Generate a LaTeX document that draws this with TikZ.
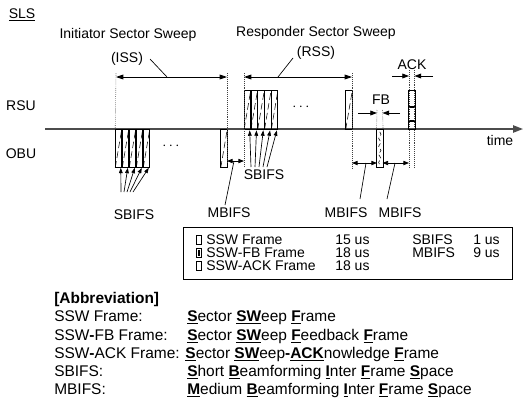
\documentclass[tikz,border=0pt]{standalone}
\usepackage{fontspec}
\setmainfont{Liberation Sans}
\usepackage{tikz}
\usetikzlibrary{positioning, arrows.meta, decorations.pathmorphing}

\newcommand{\abk}[1]{\underline{\textbf{#1}}}

\begin{document}
\begin{tikzpicture}[
  x=0.75pt, y=-0.75pt,
  font=\fontsize{10.5}{12}\selectfont,
  sswframe/.style={draw, line width=0.6pt, inner sep=0pt, outer sep=0pt,
                   minimum width=4.9pt, minimum height=29pt},
  icon/.style={draw, line width=0.6pt, inner sep=0pt, outer sep=0pt,
               minimum width=3.3pt, minimum height=7pt},
  hatch/.style={line width=0.4pt, dash pattern=on 5pt off 2.5pt},
  guide/.style={densely dotted, line width=0.45pt, black!75},
  dim/.style={{Triangle[length=5.5pt,width=3.6pt]}-{Triangle[length=5.5pt,width=3.6pt]}, line width=0.6pt},
  shortdim/.style={{Triangle[length=4.2pt,width=3.2pt]}-{Triangle[length=4.2pt,width=3.2pt]}, line width=0.6pt},
  pointer/.style={-{Triangle[length=5pt,width=3.6pt]}, line width=0.6pt},
  fan/.style={-{Triangle[length=4pt,width=2.8pt]}, line width=0.5pt},
  leader/.style={line width=0.5pt},
  axis/.style={-{Triangle[length=7.5pt,width=5.5pt]}, line width=1.1pt, black!70},
  lbl/.style={inner sep=0pt},
  abbr/.style={anchor=base west, inner sep=0pt, font=\fontsize{11.6}{14}\selectfont}
]
\useasboundingbox (0,0) rectangle (523,397);

\node[lbl] (sls) at (22,15) {\underline{SLS}};
\node[lbl] (rsu) at (21,106) {RSU};
\node[lbl] (obu) at (21,154) {OBU};

\coordinate (t0) at (45,129);
\coordinate (t1) at (523,129);
\draw[axis] (t0) -- (t1);
\node[lbl] (time) at (500,140) {time};

% initiator sweep (OBU side)
\foreach \i in {0,...,4} {
  \node[sswframe] (iss\i) at (118.5+7*\i,148.5) {};
  \draw[hatch] (iss\i.south west) -- (iss\i.north east);
  \coordinate (issfoot\i) at (121+3*\i,192);
  \draw[fan] (issfoot\i) -- ([xshift=-0.75pt]iss\i.south east);
}
\node[lbl] (issdots) at (171,146) {$\cdots$};
\node[sswframe] (isslast) at (224,148.5) {};
\draw[hatch] (isslast.south west) -- (isslast.north east);
\node[lbl] (sbifsiss) at (134,215) {SBIFS};

% responder sweep (RSU side)
\foreach \i in {0,...,4} {
  \node[sswframe] (rss\i) at (247.4+6.8*\i,110) {};
  \draw[hatch] (rss\i.south west) -- (rss\i.north east);
  \coordinate (rssfoot\i) at (251+4*\i,167);
  \draw[fan] (rssfoot\i) -- ([xshift=-0.75pt,yshift=-0.8pt]rss\i.south east);
}
\node[lbl] (rssdots) at (301,107) {$\cdots$};
\node[sswframe] (rsslast) at (349,110) {};
\draw[hatch] (rsslast.south west) -- (rsslast.north east);
\node[lbl] (sbifsrss) at (264,175) {SBIFS};

% feedback and ack
\node[sswframe] (fb) at (379.8,148.5) {};
\draw[decorate, decoration={snake, amplitude=0.9pt, segment length=6pt},
      line width=0.4pt, dash pattern=on 3pt off 2pt]
  ([yshift=-2pt]fb.north) -- ([yshift=2pt]fb.south);
\node[sswframe] (ack) at (411.8,110) {};
\draw[line width=1.3pt] ([yshift=-12pt]ack.north west) -- ([yshift=-12pt]ack.north east);
\draw[line width=1.3pt] ([yshift=-22.5pt]ack.north west) -- ([yshift=-22.5pt]ack.north east);

% guides
\coordinate (issA) at (116,73);
\coordinate (issB) at (227,73);
\coordinate (issB2) at (227,163);
\coordinate (rssA) at (244,73);
\coordinate (rssA2) at (244,166);
\coordinate (rssB) at (352,73);
\coordinate (rssB2) at (352,169);
\coordinate (ackA) at (409,70);
\coordinate (ackA2) at (409,168);
\coordinate (ackB) at (414.5,70);
\coordinate (ackB2) at (414.5,168);
\coordinate (fbA) at (377,110);
\coordinate (fbB) at (382.5,110);
\draw[guide] (issA) -- (iss0.north west);
\draw[guide] (issB) -- (issB2);
\draw[guide] (rssA) -- (rssA2);
\draw[guide] (rssB) -- (rssB2);
\draw[guide] (ackA) -- (ackA2);
\draw[guide] (ackB) -- (ackB2);
\draw[guide] (fbA) -- (fb.north west);
\draw[guide] (fbB) -- (fb.north east);

% spans
\draw[dim] ([yshift=-3pt]issA) -- ([yshift=-3pt]issB);
\draw[dim] ([yshift=-3pt]rssA) -- ([yshift=-3pt]rssB);
\node[lbl] (issname) at (128,35) {Initiator Sector Sweep};
\node[lbl] (isslbl) at (127,59) {(ISS)};
\node[lbl] (rssname) at (316,33) {Responder Sector Sweep};
\node[lbl] (rsslbl) at (316,53) {(RSS)};
\coordinate (isslead) at (150,59);
\coordinate (isstick) at (167,77);
\coordinate (rsslead) at (293,58);
\coordinate (rsstick) at (278,77);
\draw[leader] (isslead) -- (isstick);
\draw[leader] (rsslead) -- (rsstick);

\node[lbl] (acklbl) at (412,65) {ACK};
\coordinate (ackin1) at (392,76);
\coordinate (ackin2) at (433,76);
\draw[pointer] (ackin1) -- (ackA |- ackin1);
\draw[pointer] (ackin2) -- (ackB |- ackin2);

\node[lbl] (fblbl) at (381,100) {FB};
\coordinate (fbin1) at (358,113);
\coordinate (fbin2) at (400,113);
\draw[pointer] (fbin1) -- (fbA |- fbin1);
\draw[pointer] (fbin2) -- (fbB |- fbin2);

% mbifs gaps
\coordinate (gap1a) at (227,161);
\coordinate (gap1b) at (244,161);
\coordinate (gap2a) at (352,163);
\coordinate (gap2b) at (377,163);
\coordinate (gap3a) at (382.5,163);
\coordinate (gap3b) at (409,163);
\draw[shortdim] (gap1a) -- (gap1b);
\draw[shortdim] (gap2a) -- (gap2b);
\draw[shortdim] (gap3a) -- (gap3b);
\node[lbl] (mbifs1) at (229,213) {MBIFS};
\node[lbl] (mbifs2) at (346,213) {MBIFS};
\node[lbl] (mbifs3) at (400,213) {MBIFS};
\coordinate (lead1) at (225,205);
\coordinate (tick1) at (234,161);
\coordinate (lead2) at (360,199);
\coordinate (tick2) at (366,163);
\coordinate (lead3) at (387,199);
\coordinate (tick3) at (395,163);
\draw[leader] (lead1) -- (tick1);
\draw[leader] (lead2) -- (tick2);
\draw[leader] (lead3) -- (tick3);

% legend
\node[draw, line width=0.6pt, inner sep=0pt, minimum width=246.75pt,
      minimum height=39pt] (legend) at (347.5,253) {};
\node[icon] (icon1) at (199,240) {};
\node[icon] (icon2) at (199,253) {};
\draw[line width=1pt] ([yshift=-1.5pt]icon2.north) -- ([yshift=1.5pt]icon2.south);
\node[icon] (icon3) at (199,266) {};
\node[lbl, anchor=west] (lg1) at (206,240) {SSW Frame};
\node[lbl, anchor=west] (lg2) at (206,253) {SSW-FB Frame};
\node[lbl, anchor=west] (lg3) at (206,266) {SSW-ACK Frame};
\node[lbl, anchor=west] (lg1t) at (335,240) {15 us};
\node[lbl, anchor=west] (lg2t) at (335,253) {18 us};
\node[lbl, anchor=west] (lg3t) at (335,266) {18 us};
\node[lbl, anchor=west] (lgsb) at (412,240) {SBIFS};
\node[lbl, anchor=west] (lgmb) at (412,253) {MBIFS};
\node[lbl, anchor=west] (lgsbt) at (473,240) {1 us};
\node[lbl, anchor=west] (lgmbt) at (473,253) {9 us};

% abbreviations
\node[abbr, font=\fontsize{11.6}{14}\selectfont\bfseries] (abbrtitle) at (54,303) {[Abbreviation]};
\node[abbr] (ab1) at (54,321.5) {SSW Frame:};
\node[abbr] (ab1d) at (187,321.5) {\abk{S}ector \abk{SW}eep \abk{F}rame};
\node[abbr] (ab2) at (54,340) {SSW{\bfseries -}FB Frame:};
\node[abbr] (ab2d) at (187,340) {\abk{S}ector \abk{SW}eep \abk{F}eedback \abk{F}rame};
\node[abbr] (ab3) at (54,358) {SSW{\bfseries -}ACK Frame: \abk{S}ector \abk{SW}eep{\bfseries -}\abk{ACK}nowledge \abk{F}rame};
\node[abbr] (ab4) at (54,376) {SBIFS:};
\node[abbr] (ab4d) at (187,376) {\abk{S}hort \abk{B}eamforming \abk{I}nter \abk{F}rame \abk{S}pace};
\node[abbr] (ab5) at (54,394) {MBIFS:};
\node[abbr] (ab5d) at (187,394) {\abk{M}edium \abk{B}eamforming \abk{I}nter \abk{F}rame \abk{S}pace};
\end{tikzpicture}
\end{document}
